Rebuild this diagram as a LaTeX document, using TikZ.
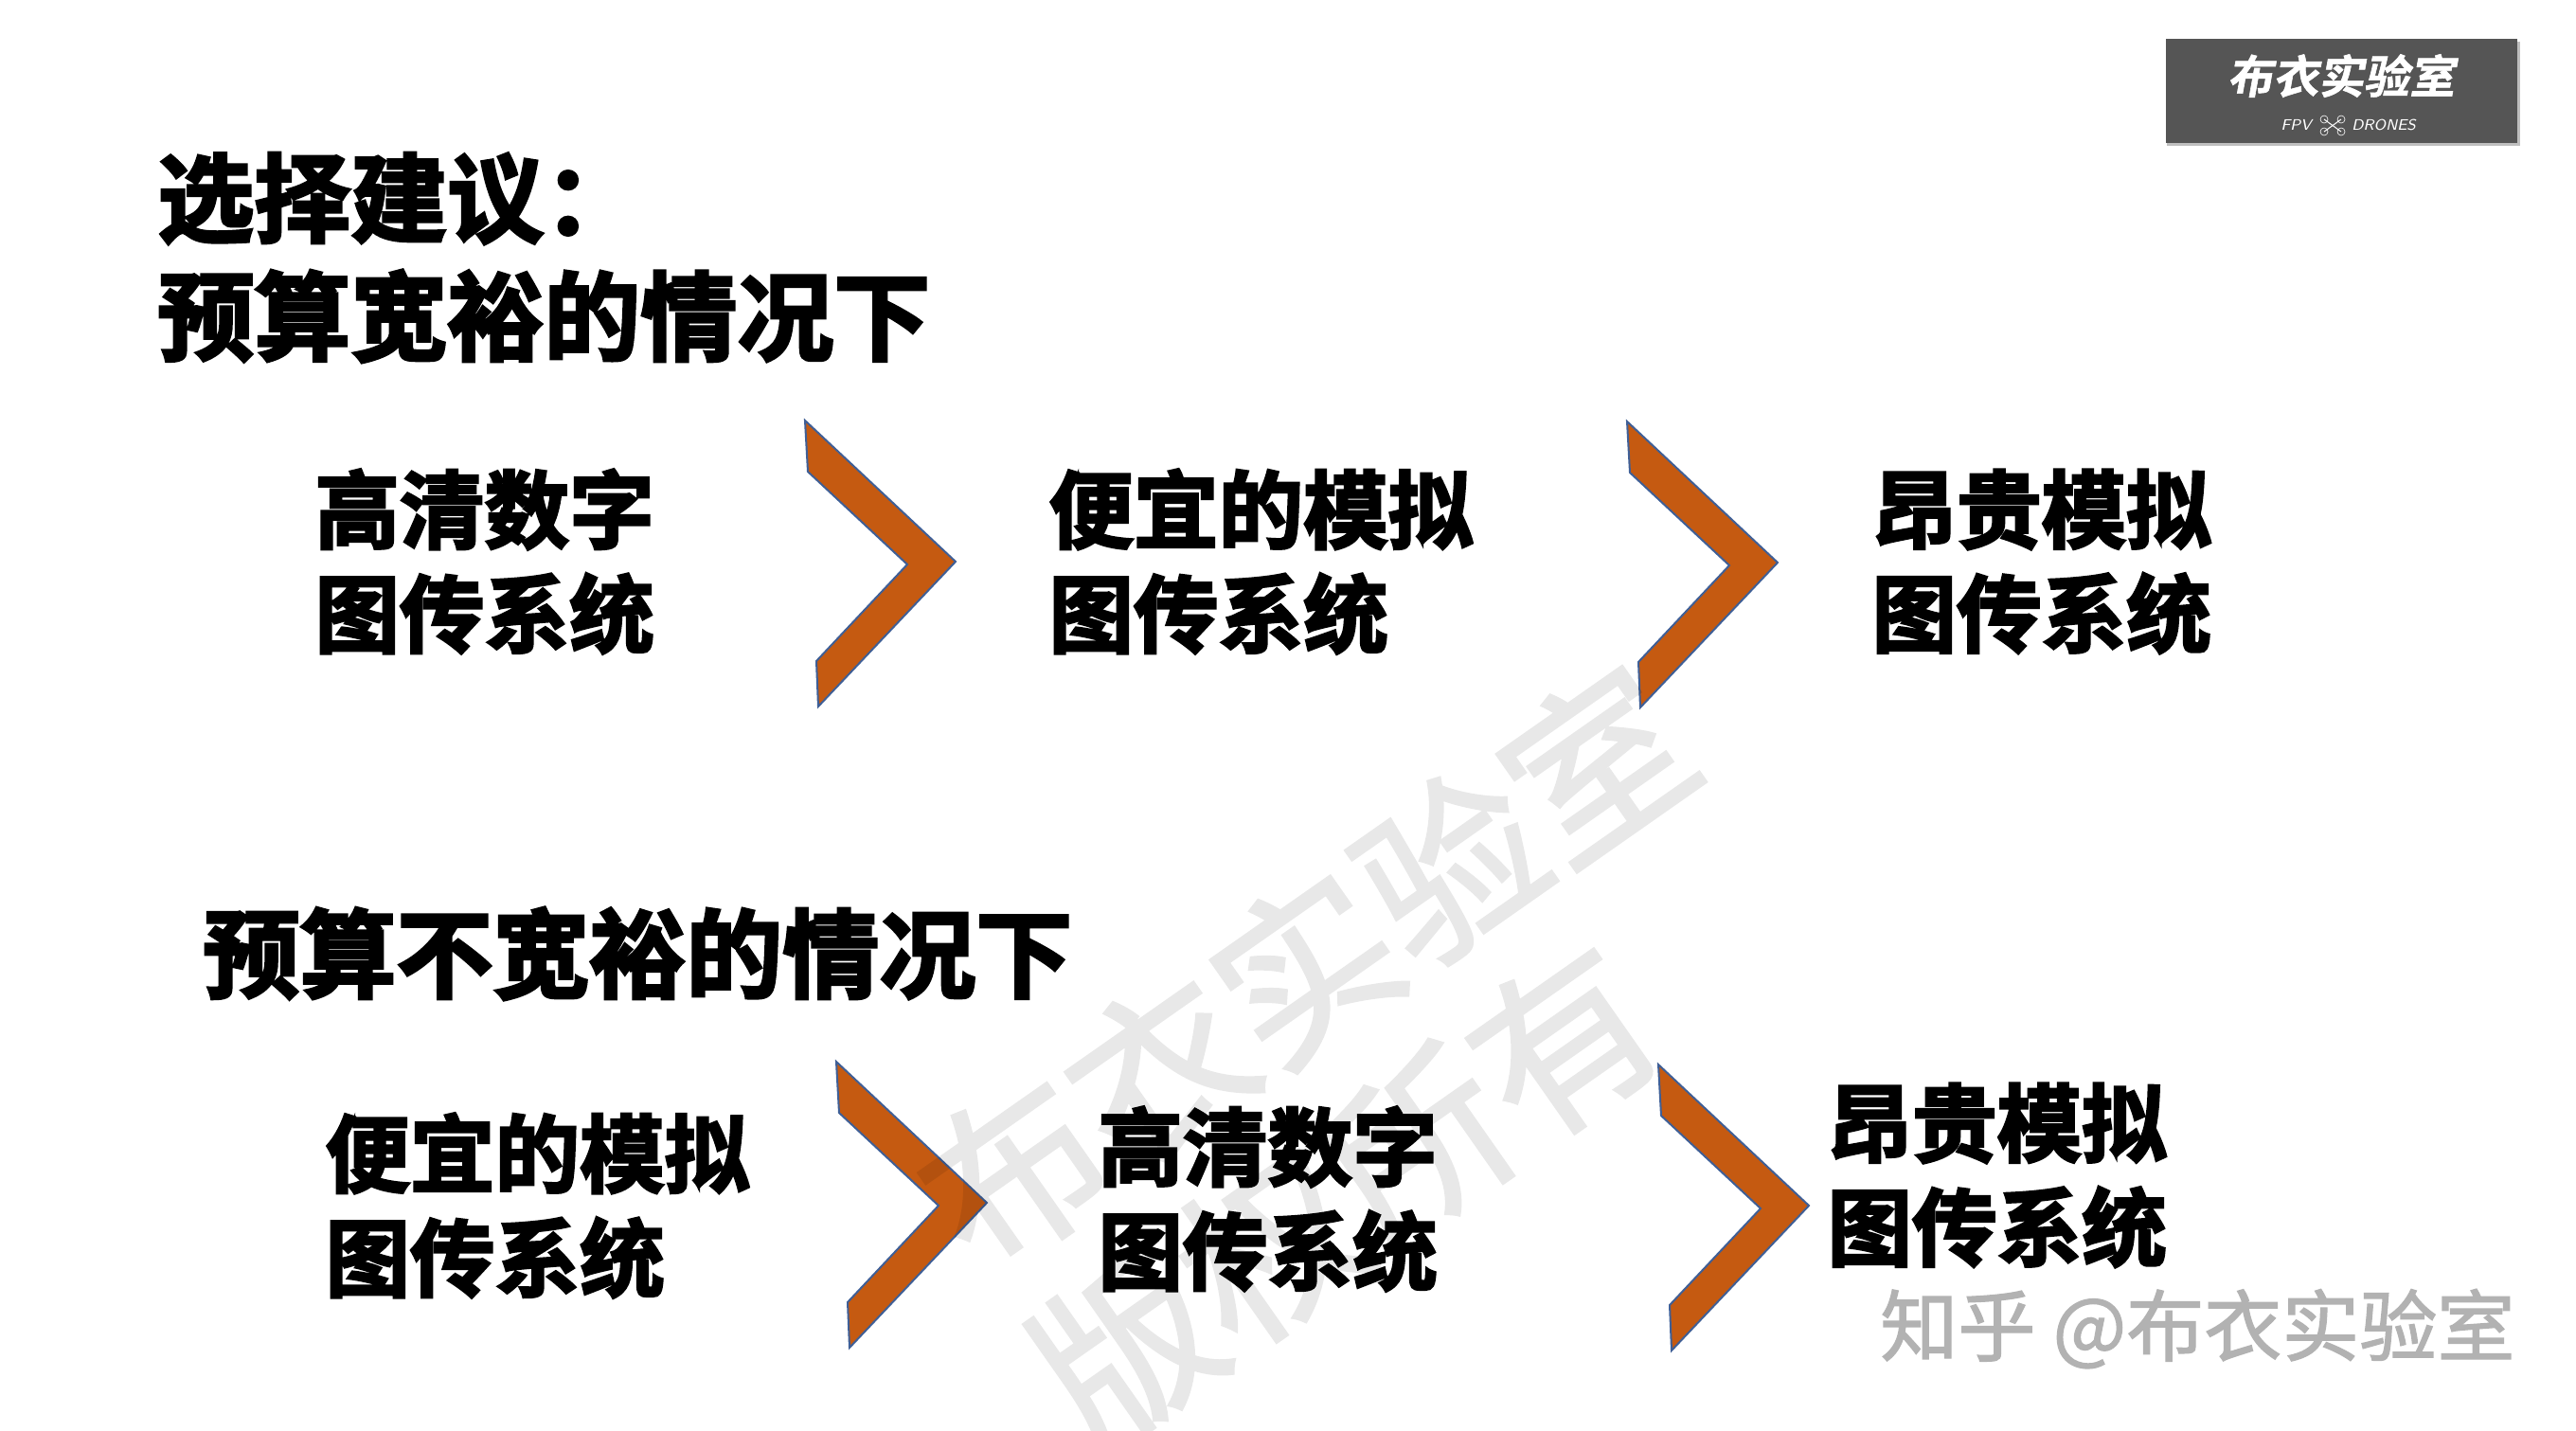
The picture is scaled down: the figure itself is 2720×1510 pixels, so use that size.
\documentclass[tikz,border=0pt]{standalone}
\usepackage{fontspec}
\newfontfamily\cjkbold[FakeBold=3]{Noto Sans CJK SC Bold}
\newfontfamily\cjkreg{Noto Sans CJK SC}
\newfontfamily\cjkwater[FakeBold=1.6]{Noto Sans CJK SC}
\newfontfamily\cjkslant[FakeSlant=0.18,FakeBold=1.2]{Noto Sans CJK SC Bold}
\setmainfont{Noto Sans CJK SC}
\definecolor{chevfill}{HTML}{C55A11}
\definecolor{chevline}{HTML}{3F5F96}
\definecolor{logogrey}{HTML}{555555}
\definecolor{markgrey}{HTML}{B2B2B2}
\tikzset{
  x=0.5pt,y=-0.5pt,
  heading/.style={anchor=west,inner sep=0pt,align=left,font=\cjkbold\fontsize{51pt}{62.5pt}\selectfont,text=black},
  bodytext/.style={anchor=west,inner sep=0pt,align=left,font=\cjkbold\fontsize{44.8pt}{55pt}\selectfont,text=black},
  chevron/.style={fill=chevfill,draw=chevline,line width=1pt,line join=miter},
  watermark/.style={inner sep=0pt,rotate=35,text=black,font=\cjkwater\fontsize{94pt}{94pt}\selectfont},
  credit/.style={anchor=west,inner sep=0pt,text=markgrey,font=\cjkwater\fontsize{41pt}{41pt}\selectfont},
  chev/.pic={\draw[chevron] (850,444) -- (1009,593) -- (864,746) -- (862,698) -- (958,596) -- (853,498) -- cycle;}
}
\begin{document}
\begin{tikzpicture}
\useasboundingbox[fill=white] (0,0) rectangle (2720,1510);
% logo
\fill[white!75!black] (2288,44) rectangle (2661,154);
\fill[white] (2285,40) rectangle (2658,151);
\fill[logogrey] (2287,41) rectangle (2658,151);
\node[inner sep=0pt,text=white,font=\cjkslant\fontsize{24pt}{24pt}\selectfont] (logotitle) at (2472,80) {布衣实验室};
\node[inner sep=0pt,anchor=east,text=white,font=\sffamily\itshape\fontsize{8pt}{8pt}\selectfont] (logoleft) at (2441,132) {FPV};
\node[inner sep=0pt,anchor=west,text=white,font=\sffamily\itshape\fontsize{8pt}{8pt}\selectfont] (logoright) at (2483,132) {DRONES};
\draw[white,line width=0.5pt] (2454,126) -- (2472,139) (2472,126) -- (2454,139);
\foreach \cx/\cy in {2454/126,2472/126,2454/139,2472/139}
  \draw[white,line width=0.3pt] (\cx,\cy) circle (4);
% headings
\node[heading] (h1) at (166,272) {选择建议：\\预算宽裕的情况下};
\node[heading] (h2) at (214,1007) {预算不宽裕的情况下};
% row 1
\node[bodytext] (a1) at (332,593) {高清数字\\图传系统};
\node[bodytext] (a2) at (1107,593) {便宜的模拟\\图传系统};
\node[bodytext] (a3) at (1976,593) {昂贵模拟\\图传系统};
% row 2
\node[bodytext] (b1) at (343,1273) {便宜的模拟\\图传系统};
\node[bodytext] (b2) at (1159,1266) {高清数字\\图传系统};
\node[bodytext] (b3) at (1929,1241) {昂贵模拟\\图传系统};
% chevrons
\pic at (0,0) {chev};
\pic at (868,1) {chev};
\pic at (33,677) {chev};
\pic at (901,680) {chev};
% watermarks
\begin{scope}[transparency group,opacity=0.09]
\node[watermark] (w1) at (1378,1022) {布衣实验室};
\node[watermark] (w2) at (1420,1262) {版权所有};
\end{scope}
% credit
\node[credit] (c) at (1985,1403) {知乎 @布衣实验室};
\end{tikzpicture}
\end{document}
